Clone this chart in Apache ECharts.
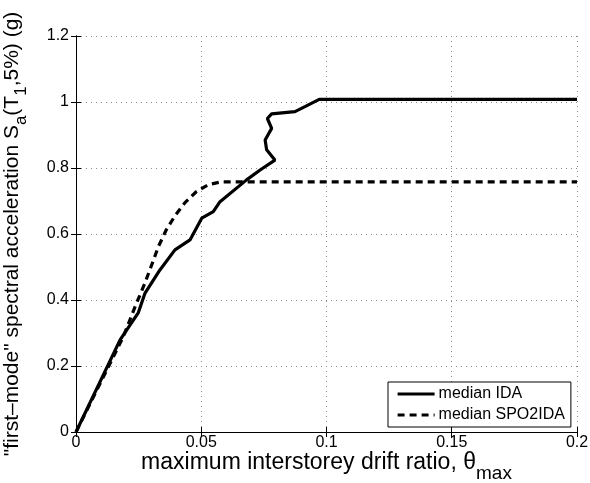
<!DOCTYPE html>
<html>
<head>
<meta charset="utf-8">
<script src="https://cdn.jsdelivr.net/npm/echarts@6/dist/echarts.min.js"></script>
<style>html,body{margin:0;padding:0;background:#fff;}#c{width:590px;height:483px;}</style>
</head>
<body>
<div id="c"></div>
<script>
// ---- data ----
var idaX = [0, 0.0176, 0.0249, 0.0275, 0.0335, 0.0395, 0.0455, 0.0502, 0.0548, 0.0575, 0.0681, 0.0735, 0.0794, 0.0761, 0.0755, 0.0781, 0.0764, 0.0781, 0.0874, 0.0914, 0.0971, 0.2];
var idaY = [0, 0.279, 0.362, 0.420, 0.491, 0.552, 0.582, 0.648, 0.668, 0.698, 0.764, 0.794, 0.824, 0.855, 0.885, 0.920, 0.950, 0.964, 0.971, 0.986, 1.008, 1.008];
var spoX = [0, 0.0189, 0.0236, 0.0275, 0.0302, 0.0329, 0.036, 0.0395, 0.0435, 0.048, 0.053, 0.058, 0.2];
var spoY = [0, 0.289, 0.380, 0.451, 0.506, 0.562, 0.612, 0.655, 0.695, 0.728, 0.750, 0.758, 0.758];
var seriesNames = ['median IDA', 'median SPO2IDA'];
var xTicks = {min: 0, max: 0.2, interval: 0.05};
var yTicks = {min: 0, max: 1.2, interval: 0.2};

function pairs(xs, ys) { return xs.map(function (x, i) { return [x, ys[i]]; }); }

var font = 'Liberation Sans, Arial, Helvetica, sans-serif';
var chart = echarts.init(document.getElementById('c'), null, {renderer: 'canvas'});
var gridLine = {show: true, lineStyle: {color: '#8a8a8a', type: [1, 4], width: 1}};
chart.setOption({
  animation: false,
  backgroundColor: '#fff',
  grid: {left: 76, top: 36, right: 13, bottom: 51, show: false, containLabel: false, outerBoundsMode: 'none'},
  legend: {
    left: 388, top: 382, orient: 'vertical',
    padding: [4, 6, 4, 8], itemGap: 5, itemWidth: 37, itemHeight: 14,
    backgroundColor: '#fff', borderColor: '#000', borderWidth: 1, borderRadius: 0,
    itemStyle: {opacity: 0, borderWidth: 0},
    lineStyle: {width: 3.2, color: '#000'},
    textStyle: {fontFamily: font, fontSize: 16, color: '#000', padding: [0, 0, 0, -1]},
    data: seriesNames
  },
  xAxis: [{
    type: 'value', min: xTicks.min, max: xTicks.max, interval: xTicks.interval,
    axisLine: {show: true, lineStyle: {color: '#000', width: 1}},
    axisTick: {show: true, inside: true, length: 5, lineStyle: {color: '#000'}},
    axisLabel: {fontFamily: font, fontSize: 16, color: '#000', margin: 3},
    splitLine: gridLine,
    name: '{m|maximum interstorey drift ratio, θ}{s|max}',
    nameLocation: 'middle', nameGap: 11, nameMoveOverlap: false,
    nameTextStyle: {
      color: '#000',
      rich: {
        m: {fontFamily: font, fontSize: 23, color: '#000', lineHeight: 40},
        s: {fontFamily: font, fontSize: 19, color: '#000', verticalAlign: 'bottom'}
      }
    }
  }, {
    type: 'value', position: 'top', min: xTicks.min, max: xTicks.max, interval: xTicks.interval,
    axisLine: {show: true, lineStyle: {color: '#000', width: 1}},
    axisTick: {show: true, inside: true, length: 5, lineStyle: {color: '#000'}},
    axisLabel: {show: false}, splitLine: {show: false}
  }],
  yAxis: [{
    type: 'value', min: yTicks.min, max: yTicks.max, interval: yTicks.interval,
    axisLine: {show: true, lineStyle: {color: '#000', width: 1}},
    axisTick: {show: true, inside: true, length: 5, lineStyle: {color: '#000'}},
    axisLabel: {fontFamily: font, fontSize: 16, color: '#000', margin: 7},
    splitLine: gridLine,
    name: '{m|"first–mode" spectral acceleration S}{s|a}{m|(T}{s|1}{m|,5%) (g)}',
    nameLocation: 'middle', nameGap: 46,
    nameTextStyle: {
      color: '#000',
      rich: {
        m: {fontFamily: font, fontSize: 21, color: '#000', lineHeight: 36},
        s: {fontFamily: font, fontSize: 17, color: '#000', verticalAlign: 'bottom'}
      }
    }
  }, {
    type: 'value', position: 'right', min: yTicks.min, max: yTicks.max, interval: yTicks.interval,
    axisLine: {show: true, lineStyle: {color: '#000', width: 1}},
    axisTick: {show: true, inside: true, length: 5, lineStyle: {color: '#000'}},
    axisLabel: {show: false}, splitLine: {show: false}
  }],
  series: [{
    name: seriesNames[0], type: 'line', data: pairs(idaX, idaY),
    showSymbol: false, symbol: 'none', smooth: false,
    lineStyle: {color: '#000', width: 3.2, type: 'solid'},
    itemStyle: {color: '#000'}
  }, {
    name: seriesNames[1], type: 'line', data: pairs(spoX, spoY),
    showSymbol: false, symbol: 'none', smooth: false,
    lineStyle: {color: '#000', width: 3.2, type: [7, 5]},
    itemStyle: {color: '#000'}
  }]
});
</script>
</body>
</html>
